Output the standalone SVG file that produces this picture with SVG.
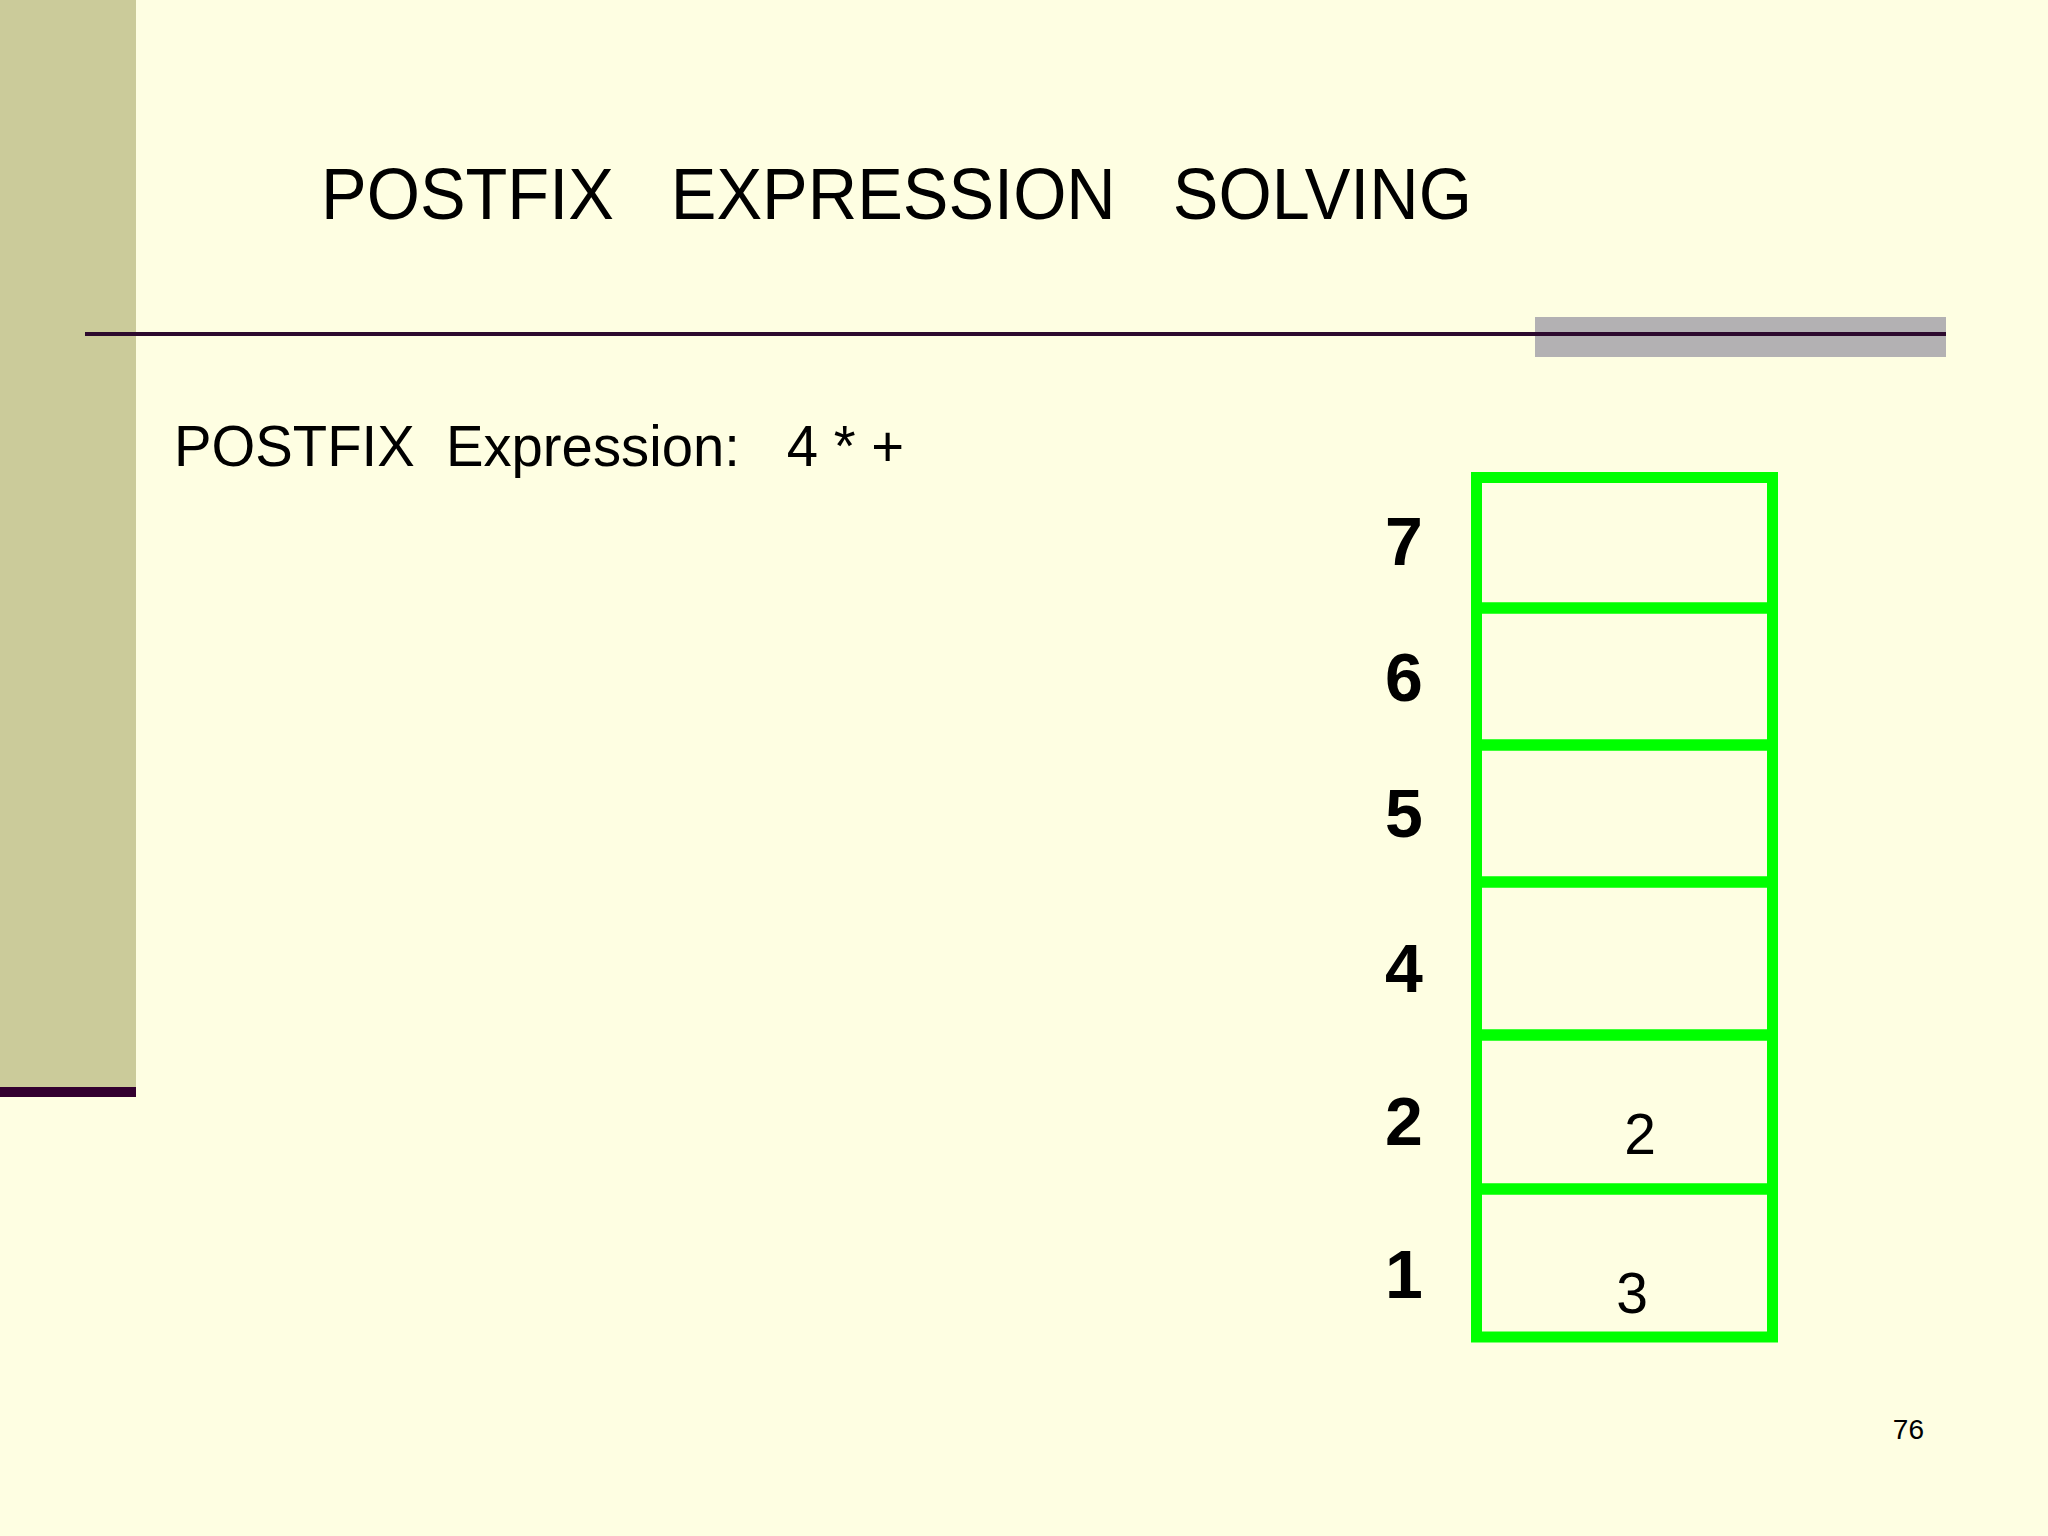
<svg xmlns="http://www.w3.org/2000/svg" width="2048" height="1536" viewBox="0 0 2048 1536">
<style>
.t{font-family:"Liberation Sans",Arial,sans-serif;fill:#000}
.idx{font-family:"Liberation Sans",Arial,sans-serif;font-weight:bold;font-size:68px;text-anchor:middle;fill:#000}
.val{font-family:"Liberation Sans",Arial,sans-serif;font-size:57px;text-anchor:middle;fill:#000}
.cell{fill:none;stroke:#00FF00;stroke-width:11}
</style>
<rect x="0" y="0" width="2048" height="1536" fill="#FEFEE2"/>
<g id="sidebar">
<rect x="0" y="0" width="136" height="1087" fill="#CBCB9A"/>
<rect x="0" y="1087" width="136" height="10" fill="#33002F"/>
</g>
<g id="header">
<text class="t" x="321" y="219" font-size="73" textLength="1151" lengthAdjust="spacingAndGlyphs" xml:space="preserve">POSTFIX   EXPRESSION   SOLVING</text>
<rect x="1535" y="317" width="411" height="40" fill="#B3B1B3"/>
<rect x="85" y="332" width="1861" height="4" fill="#2D0A2E"/>
</g>
<g id="expression">
<text class="t" x="174" y="466" font-size="58" textLength="730" lengthAdjust="spacingAndGlyphs" xml:space="preserve">POSTFIX  Expression:   4 * +</text>
</g>
<g id="stack">
<g id="cell7"><rect class="cell" x="1476.5" y="477.5" width="296" height="130.5"/><text class="idx" x="1404" y="565">7</text></g>
<g id="cell6"><rect class="cell" x="1476.5" y="608" width="296" height="137"/><text class="idx" x="1404" y="701">6</text></g>
<g id="cell5"><rect class="cell" x="1476.5" y="745" width="296" height="137"/><text class="idx" x="1404" y="837">5</text></g>
<g id="cell4"><rect class="cell" x="1476.5" y="882" width="296" height="153"/><text class="idx" x="1404" y="992">4</text></g>
<g id="cell2"><rect class="cell" x="1476.5" y="1035" width="296" height="154"/><text class="idx" x="1404" y="1145">2</text><text class="val" x="1640" y="1154">2</text></g>
<g id="cell1"><rect class="cell" x="1476.5" y="1189" width="296" height="148"/><text class="idx" x="1404" y="1298">1</text><text class="val" x="1632" y="1313">3</text></g>
</g>
<g id="connectors"/>
<text class="t" x="1924" y="1439" font-size="28" text-anchor="end">76</text>
</svg>
